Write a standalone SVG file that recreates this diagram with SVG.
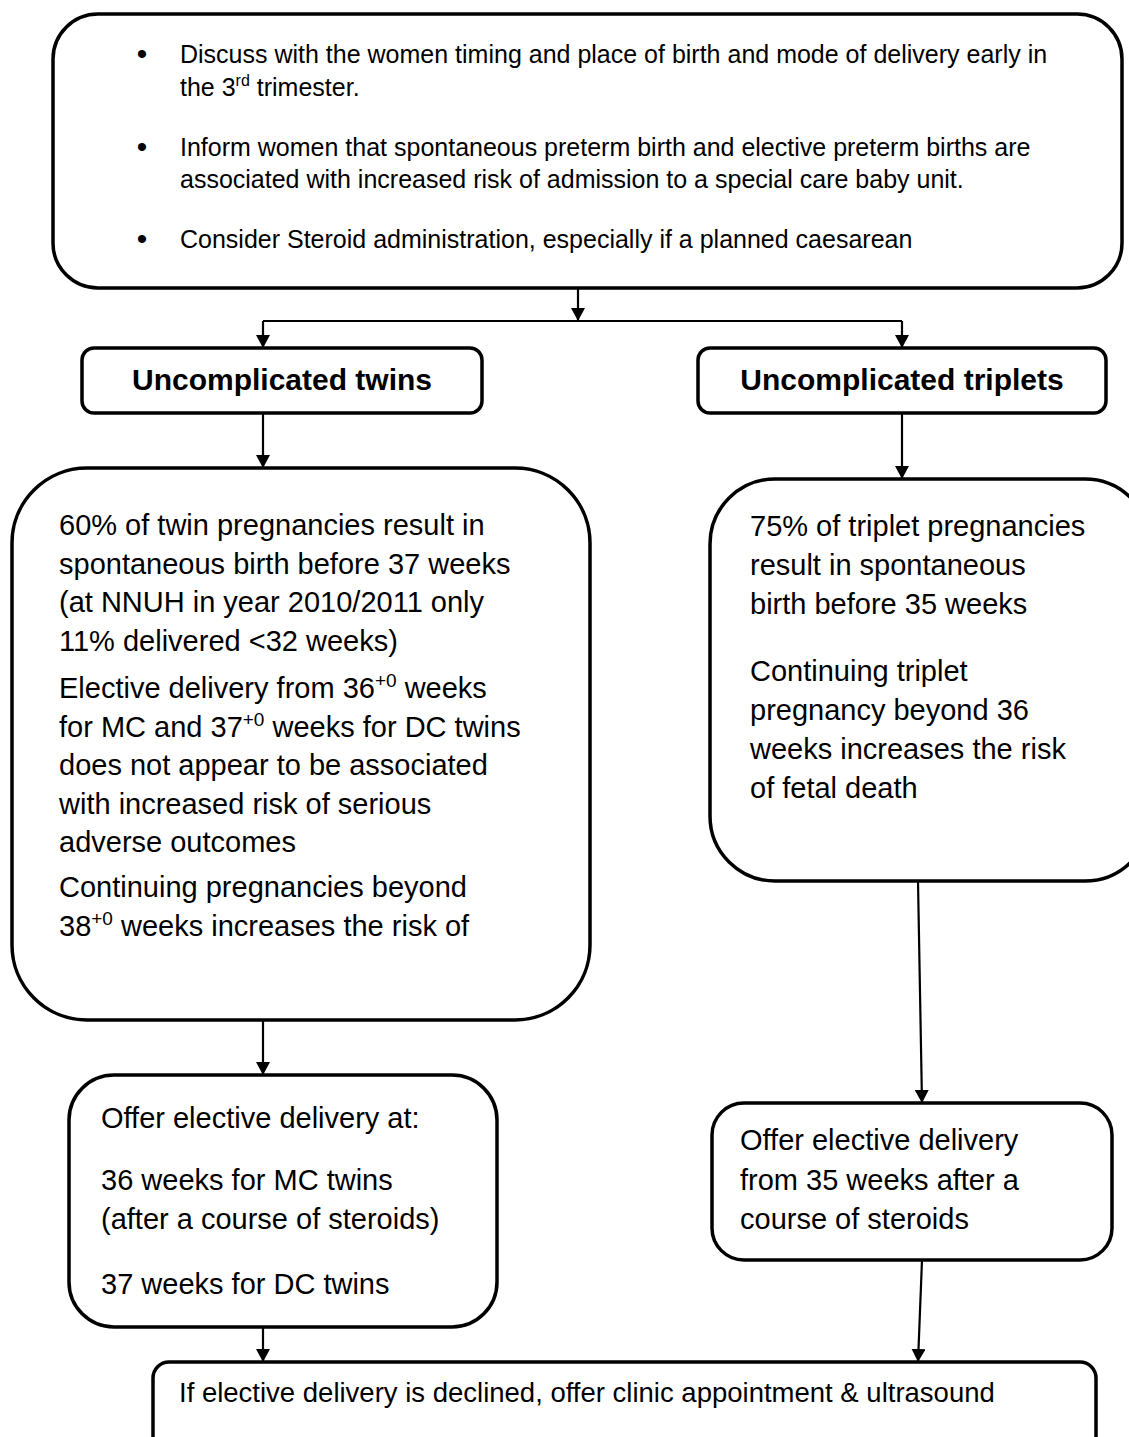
<svg xmlns="http://www.w3.org/2000/svg" width="1129" height="1437" viewBox="0 0 1129 1437">
<style>
.box{fill:#fff;stroke:#000;stroke-width:3.5}
.t{font-family:"Liberation Sans",Arial,sans-serif;fill:#000}
.s25{font-size:25px}
.s29{font-size:29px}
.s27{font-size:27.5px}
.b{font-size:30px;font-weight:bold}
.bul{font-size:30px}
.c{fill:none;stroke:#000;stroke-width:2.2}
</style>
<defs>
<marker id="ah" viewBox="0 0 13 14" refX="13" refY="7" markerWidth="13" markerHeight="14" markerUnits="userSpaceOnUse" orient="auto">
<path d="M0,0 L13,7 L0,14 z" fill="#000"/>
</marker>
</defs>
<rect width="1129" height="1437" fill="#fff"/>

<g id="connectors">
<line class="c" x1="578" y1="288" x2="578" y2="321" marker-end="url(#ah)"/>
<line class="c" x1="263" y1="321" x2="902" y2="321"/>
<line class="c" x1="263" y1="321" x2="263" y2="348" marker-end="url(#ah)"/>
<line class="c" x1="902" y1="321" x2="902" y2="348" marker-end="url(#ah)"/>
<line class="c" x1="263" y1="413" x2="263" y2="468" marker-end="url(#ah)"/>
<line class="c" x1="902" y1="413" x2="902" y2="479" marker-end="url(#ah)"/>
<line class="c" x1="263" y1="1020" x2="263" y2="1075" marker-end="url(#ah)"/>
<line class="c" x1="918" y1="881" x2="922" y2="1103" marker-end="url(#ah)"/>
<line class="c" x1="263" y1="1327" x2="263" y2="1362" marker-end="url(#ah)"/>
<line class="c" x1="922" y1="1260" x2="918" y2="1362" marker-end="url(#ah)"/>
</g>

<g id="intro">
<rect class="box" x="53" y="14" width="1069" height="274" rx="45"/>
<text class="t bul" x="142" y="64" text-anchor="middle">•</text>
<text class="t s25" x="180" y="63">Discuss with the women timing and place of birth and mode of delivery early in</text>
<text class="t s25" x="180" y="96">the 3<tspan font-size="16" dy="-10">rd</tspan><tspan dy="10"> trimester.</tspan></text>
<text class="t bul" x="142" y="157" text-anchor="middle">•</text>
<text class="t s25" x="180" y="156">Inform women that spontaneous preterm birth and elective preterm births are</text>
<text class="t s25" x="180" y="188">associated with increased risk of admission to a special care baby unit.</text>
<text class="t bul" x="142" y="249" text-anchor="middle">•</text>
<text class="t s25" x="180" y="248">Consider Steroid administration, especially if a planned caesarean</text>
</g>

<g id="twins">
<rect class="box" x="82" y="348" width="400" height="65" rx="12"/>
<text class="t b" x="282" y="390" text-anchor="middle">Uncomplicated twins</text>
</g>

<g id="triplets">
<rect class="box" x="698" y="348" width="408" height="65" rx="12"/>
<text class="t b" x="902" y="390" text-anchor="middle">Uncomplicated triplets</text>
</g>

<g id="twins-info">
<rect class="box" x="12" y="468" width="578" height="552" rx="75"/>
<text class="t s29" x="59" y="535">60% of twin pregnancies result in</text>
<text class="t s29" x="59" y="573.5">spontaneous birth before 37 weeks</text>
<text class="t s29" x="59" y="612">(at NNUH in year 2010/2011 only</text>
<text class="t s29" x="59" y="650.5">11% delivered &lt;32 weeks)</text>
<text class="t s29" x="59" y="698">Elective delivery from 36<tspan font-size="19" dy="-11">+0</tspan><tspan dy="11"> weeks</tspan></text>
<text class="t s29" x="59" y="736.5">for MC and 37<tspan font-size="19" dy="-11">+0</tspan><tspan dy="11"> weeks for DC twins</tspan></text>
<text class="t s29" x="59" y="775">does not appear to be associated</text>
<text class="t s29" x="59" y="813.5">with increased risk of serious</text>
<text class="t s29" x="59" y="852">adverse outcomes</text>
<text class="t s29" x="59" y="897">Continuing pregnancies beyond</text>
<text class="t s29" x="59" y="935.5">38<tspan font-size="19" dy="-11">+0</tspan><tspan dy="11"> weeks increases the risk of</tspan></text>
</g>

<g id="triplets-info">
<rect class="box" x="710" y="479" width="440" height="402" rx="65"/>
<text class="t s29" x="750" y="536">75% of triplet pregnancies</text>
<text class="t s29" x="750" y="575">result in spontaneous</text>
<text class="t s29" x="750" y="614">birth before 35 weeks</text>
<text class="t s29" x="750" y="681">Continuing triplet</text>
<text class="t s29" x="750" y="720">pregnancy beyond 36</text>
<text class="t s29" x="750" y="759">weeks increases the risk</text>
<text class="t s29" x="750" y="798">of fetal death</text>
</g>

<g id="twins-offer">
<rect class="box" x="69" y="1075" width="428" height="252" rx="45"/>
<text class="t s29" x="101" y="1128">Offer elective delivery at:</text>
<text class="t s29" x="101" y="1190">36 weeks for MC twins</text>
<text class="t s29" x="101" y="1229">(after a course of steroids)</text>
<text class="t s29" x="101" y="1294">37 weeks for DC twins</text>
</g>

<g id="triplets-offer">
<rect class="box" x="712" y="1103" width="400" height="157" rx="32"/>
<text class="t s29" x="740" y="1150">Offer elective delivery</text>
<text class="t s29" x="740" y="1190">from 35 weeks after a</text>
<text class="t s29" x="740" y="1229">course of steroids</text>
</g>

<g id="declined">
<rect class="box" x="153" y="1362" width="943" height="100" rx="16"/>
<text class="t s27" x="179" y="1402">If elective delivery is declined, offer clinic appointment &amp; ultrasound</text>
</g>
</svg>
